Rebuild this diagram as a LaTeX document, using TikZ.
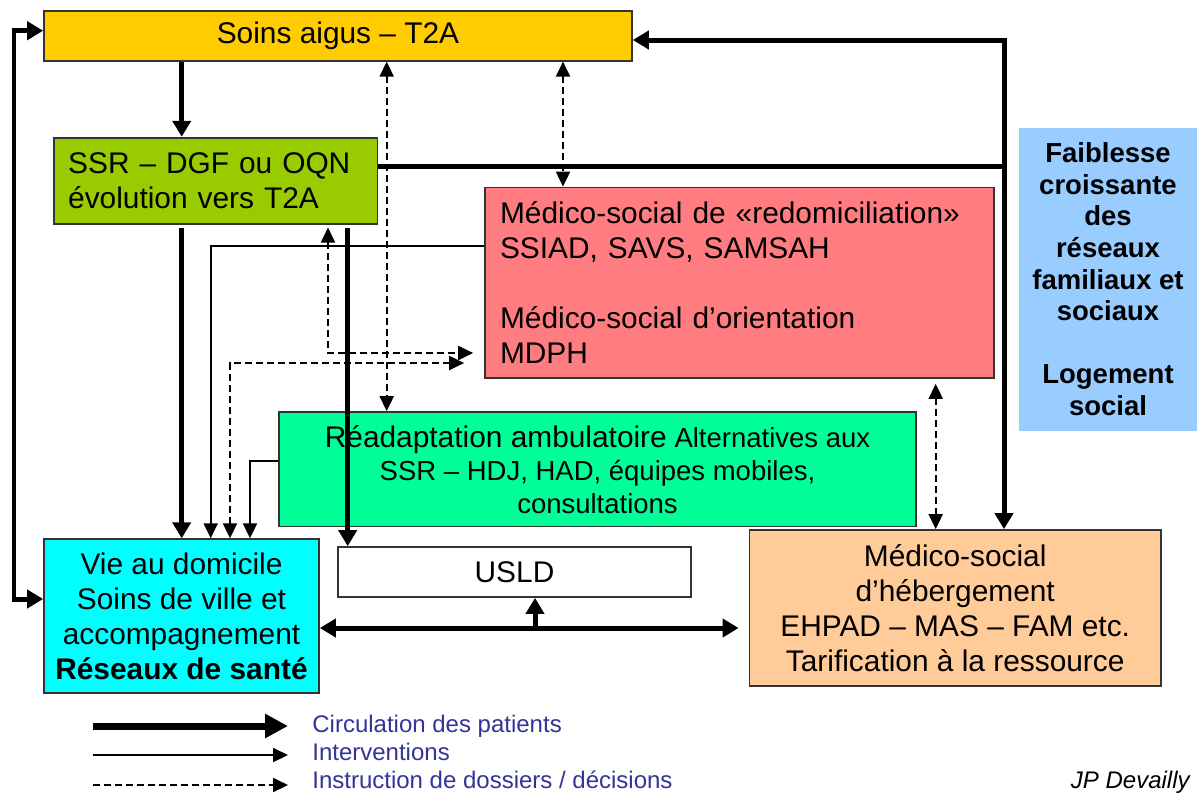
\documentclass[tikz,border=0pt]{standalone}
\usepackage{fontspec}
\setmainfont{Liberation Sans}
\usetikzlibrary{arrows.meta}

\definecolor{soinsorange}{HTML}{FFCC00}
\definecolor{ssrgreen}{HTML}{99CC00}
\definecolor{redompink}{HTML}{FF7C80}
\definecolor{faibleblue}{HTML}{99CCFF}
\definecolor{readaptgreen}{HTML}{00FF99}
\definecolor{viecyan}{HTML}{00FFFF}
\definecolor{hebergpeach}{HTML}{FFCC99}
\definecolor{legendblue}{HTML}{333399}

\begin{document}
\begin{tikzpicture}
[x=0.02cm, y=-0.02cm,
block/.style ={rectangle, draw=black!80, line width=0.035cm,
font=\fontsize{17}{19.9}\selectfont, align=center},
flow/.style ={draw, line width=0.1cm, >={Triangle[length=0.32cm,width=0.36cm]}},
interv/.style ={draw, line width=0.04cm, >={Triangle[length=0.3cm,width=0.28cm]}},
dossier/.style ={interv, dash pattern=on 0.14cm off 0.08cm},
legend/.style ={font=\fontsize{13.66}{16}\selectfont, text=legendblue, inner sep=0pt}]

\useasboundingbox (0,0) rectangle (1197,796);

% boxes
\node [block, fill=soinsorange, minimum width=11.76cm, minimum height=1cm] (soins) at (338,35.7) {Soins aigus – T2A};
\node [block, fill=ssrgreen, minimum width=6.47cm, minimum height=1.73cm,
text width=5.91cm, align=left] (ssr) at (215.9,180.9) {SSR – DGF ou OQN\\évolution vers T2A};
\node [block, fill=redompink, minimum width=10.18cm, minimum height=3.81cm,
text width=9.58cm, align=left] (redom) at (739.5,282.7)
{Médico-social de «redomiciliation»\\SSIAD, SAVS, SAMSAH\\[19.9pt]Médico-social d’orientation\\MDPH};
\node [fill=faibleblue, minimum width=3.56cm, minimum height=6.06cm, align=center,
font=\bfseries\fontsize{15.65}{18}\selectfont] (faible) at (1108,279.2)
{Faiblesse\\croissante\\des\\réseaux\\familiaux et\\sociaux\\[18pt]Logement\\social};
\node [block, fill=readaptgreen, minimum width=12.74cm, minimum height=2.29cm,
font=\fontsize{15.65}{18.8}\selectfont] (readapt) at (597.5,469.3)
{{\fontsize{17}{18.8}\selectfont Réadaptation ambulatoire} Alternatives aux\\SSR – HDJ, HAD, équipes mobiles,\\consultations};
\node [block, fill=viecyan, minimum width=5.5cm, minimum height=3.07cm] (vie) at (181.5,615.9)
{Vie au domicile\\Soins de ville et\\accompagnement\\\textbf{Réseaux de santé}};
\node [block, fill=white, minimum width=7.06cm, minimum height=1cm] (usld) at (514.5,572) {USLD};
\node [block, fill=hebergpeach, minimum width=8.23cm, minimum height=3.12cm] (heberg) at (955.2,608)
{Médico-social\\d’hébergement\\EHPAD – MAS – FAM etc.\\Tarification à la ressource};

\coordinate (lefttop) at (14,30.7);
\coordinate (leftbot) at (14,599);
\coordinate (rightcorner) at (1004,40);
\coordinate (branch) at (535,628);

% circulation des patients
\draw [flow, <->] (soins.west |- lefttop) -- (lefttop) -- (leftbot) -- (vie.west |- leftbot);
\draw [flow, ->] (soins.south -| 181.7,0) -- (ssr.north -| 181.7,0);
\draw [flow, ->, shorten <=0.06cm] (ssr.south -| 181.7,0) -- (vie.north -| 181.7,0);
\draw [flow, ->, shorten <=0.06cm] (ssr.south -| 347.7,0) -- (usld.north -| 347.7,0);
\draw [flow, <->] (soins.east |- rightcorner) -- (rightcorner) -- (rightcorner |- heberg.north);
\draw [flow] (ssr.east |- 0,166.7) -- (rightcorner |- 0,166.7);
\draw [flow, <->, shorten >=0.2cm] (vie.east |- branch) -- (heberg.west |- branch);
\draw [flow, ->] (branch) -- (usld.south -| branch);

% interventions
\draw [interv, ->] (redom.west |- 0,245.7) -| (vie.north -| 210.7,0);
\draw [interv, ->] (readapt.west |- 0,461) -| (vie.north -| 250,0);

% dossiers / decisions
\draw [dossier, <->] (soins.south -| 386.7,0) -- (readapt.north -| 386.7,0);
\draw [dossier, <->] (soins.south -| 563,0) -- (redom.north -| 563,0);
\draw [dossier, <->, shorten <=0.1cm] (redom.south -| 935.7,0) -- (heberg.north -| 935.7,0);
\draw [dossier, <->, shorten <=0.05cm, shorten >=0.22cm] (ssr.south -| 328,0) |- (redom.west |- 0,353);
\draw [dossier, <->, shorten >=0.4cm] (vie.north -| 230,0) |- (redom.west |- 0,363);

% legende
\coordinate (lgflow) at (93,726);
\coordinate (lginterv) at (93,755);
\coordinate (lgdossier) at (93,785);
\node [legend, anchor=base west] (txtflow) at (312,732) {Circulation des patients};
\node [legend, anchor=base west] (txtinterv) at (312,760.7) {Interventions};
\node [legend, anchor=base west] (txtdossier) at (312,788) {Instruction de dossiers / décisions};
\node [anchor=base east, inner sep=0pt, font=\itshape\fontsize{13.66}{16}\selectfont] (auteur) at (1190,788) {JP Devailly};
\draw [flow, line width=0.14cm, >={Triangle[length=0.46cm,width=0.46cm]}, ->, shorten >=0.48cm] (lgflow) -- (lgflow -| txtflow.west);
\draw [interv, ->, shorten >=0.48cm] (lginterv) -- (lginterv -| txtinterv.west);
\draw [dossier, ->, shorten >=0.48cm] (lgdossier) -- (lgdossier -| txtdossier.west);
\end{tikzpicture}
\end{document}
